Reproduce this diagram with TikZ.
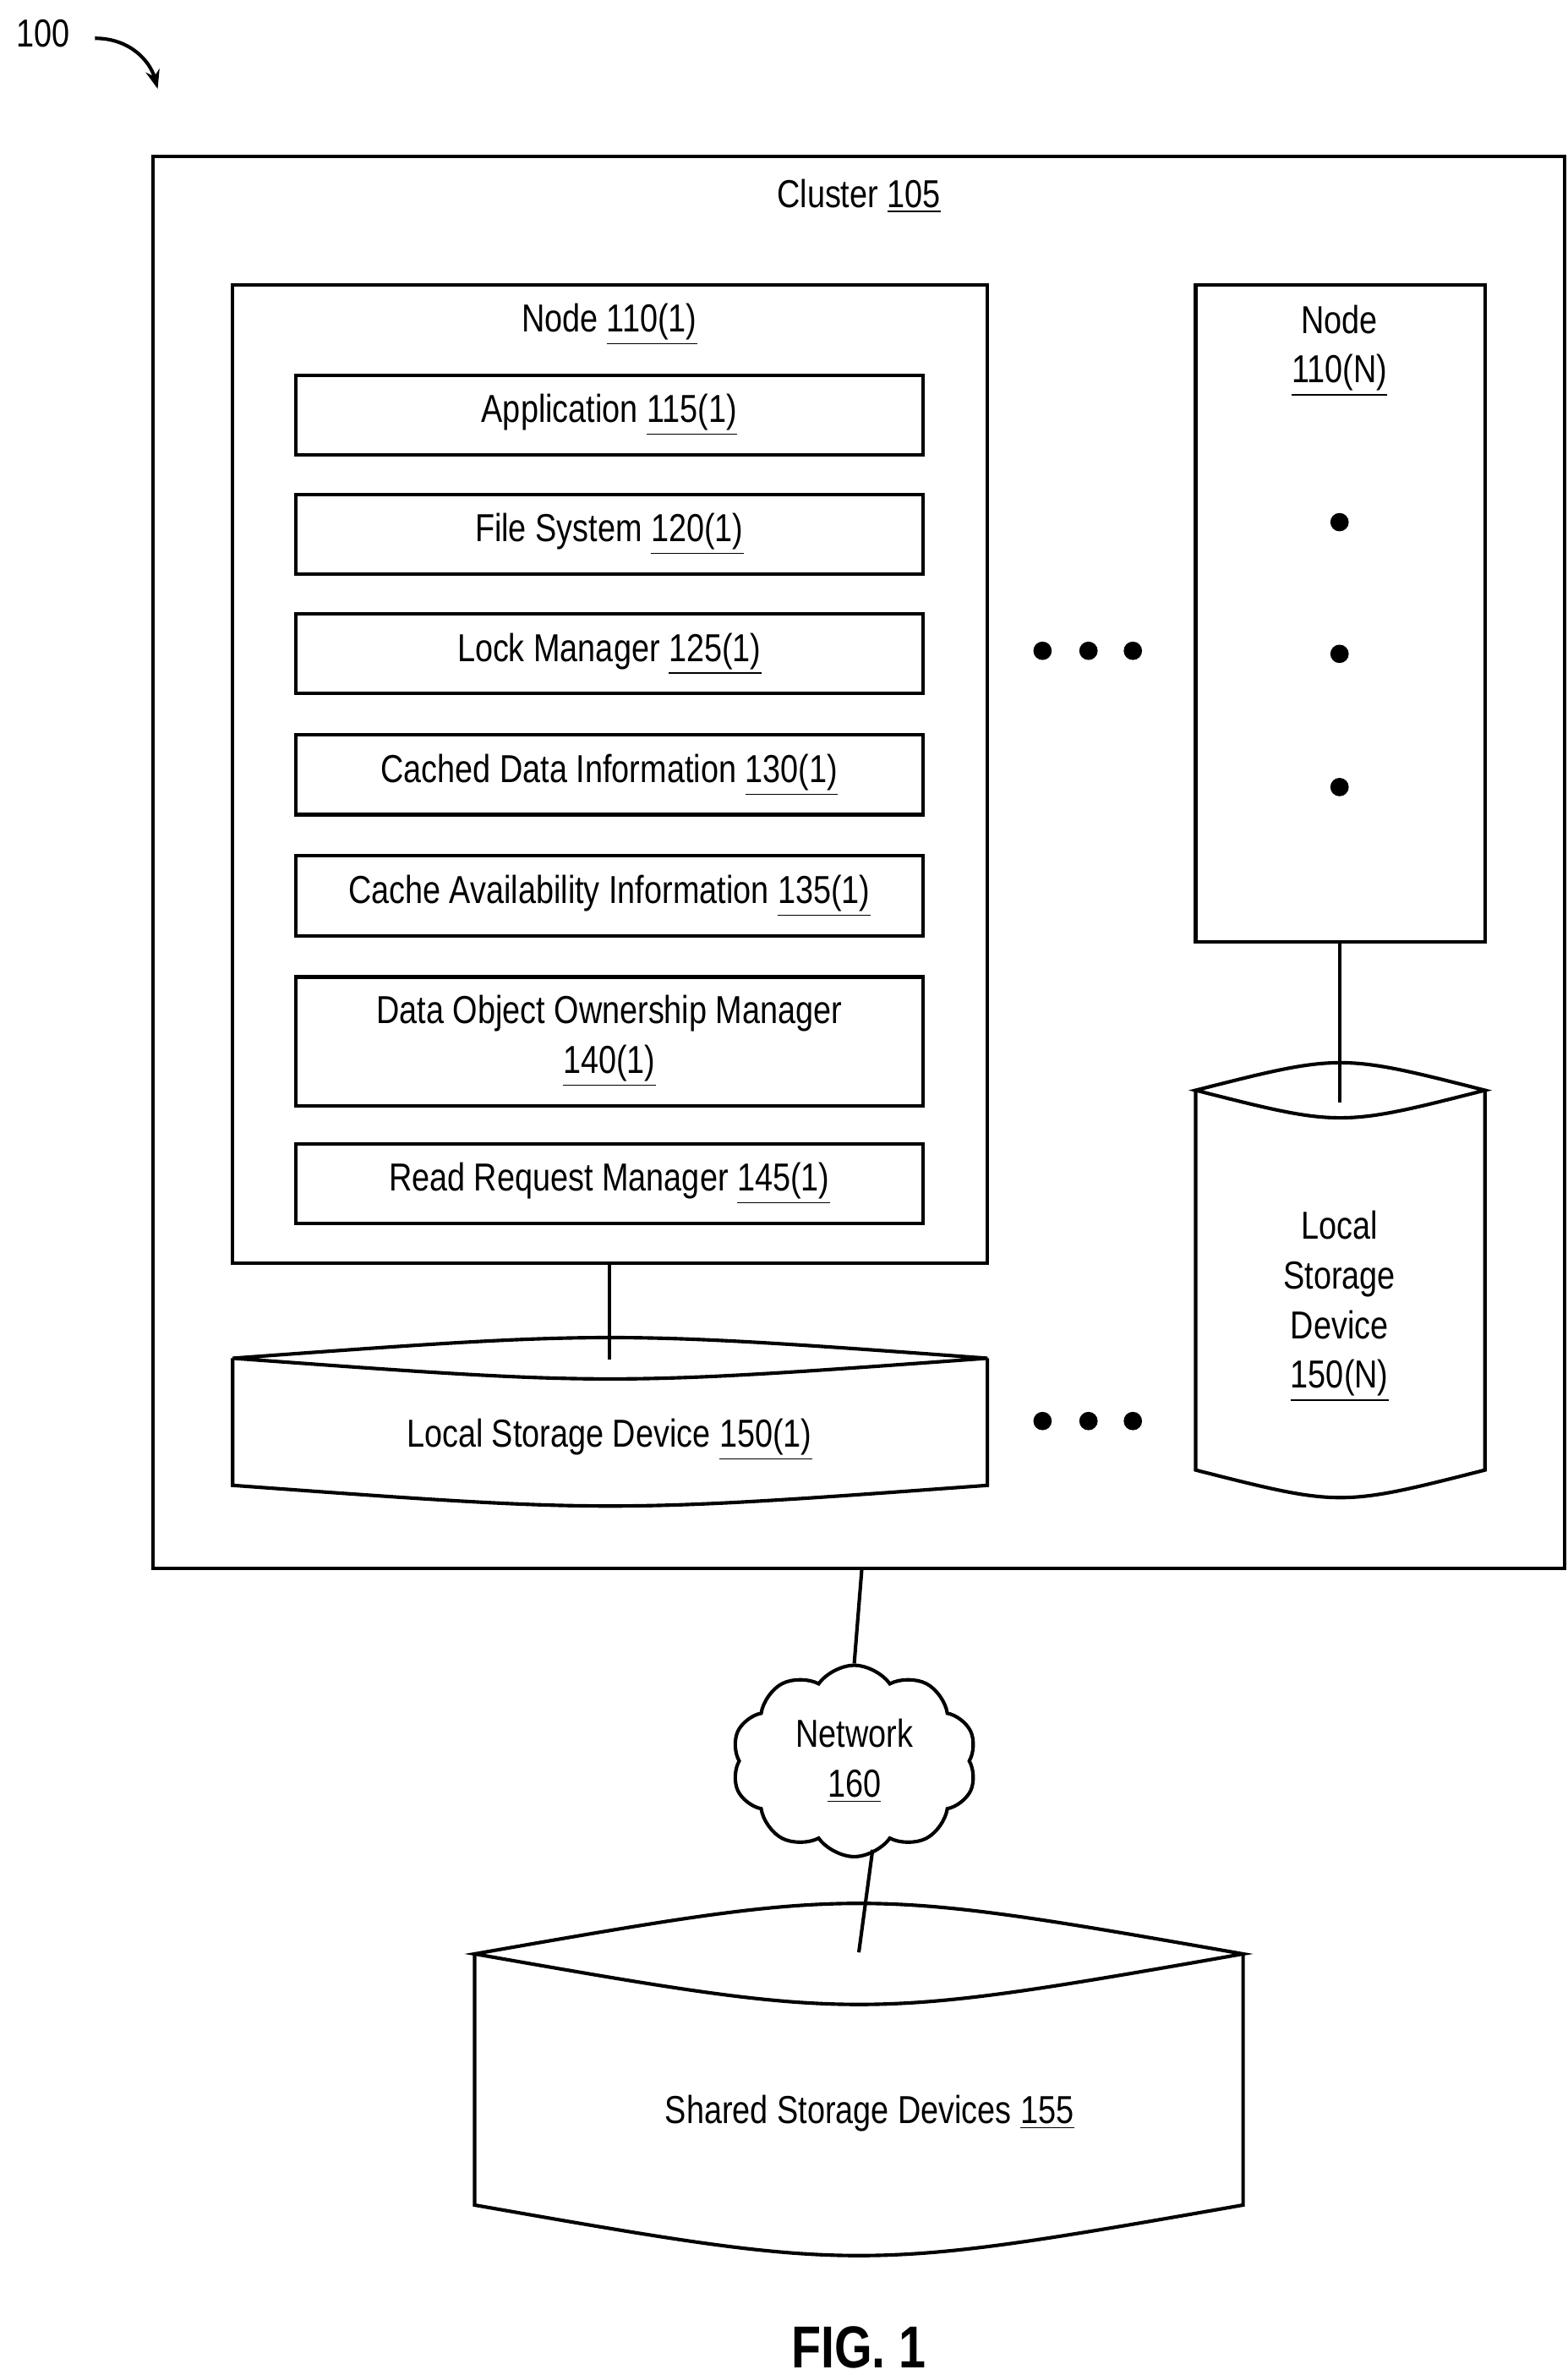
\documentclass[tikz,border=0pt]{standalone}
\usepackage{fontspec}
\setmainfont{Liberation Sans}[FakeStretch=0.82]
\usetikzlibrary{shapes.symbols,arrows.meta}
\newcommand{\refnum}[1]{\underline{#1}}
% lens-topped cylinder: x1, x2, corner y, sag, bottom y
\newcommand{\drum}[5]{%
  \draw (#1,#3) .. controls ({(#1+#2)/2},{#3-2*#4}) .. (#2,#3)
        .. controls ({(#1+#2)/2},{#3+2*#4}) .. (#1,#3) -- cycle;
  \draw (#1,#3) -- (#1,#5) .. controls ({(#1+#2)/2},{#5+2*#4}) .. (#2,#5) -- (#2,#3);}
\begin{document}
\begin{tikzpicture}[x=0.02cm,y=-0.02cm,line width=1.3pt,font=\fontsize{14.5pt}{18.5pt}\selectfont]
  \tikzset{
    box/.style={draw,minimum width=8.2cm,inner sep=0pt,align=center},
    dot/.style={circle,fill,inner sep=0pt,minimum size=0.24cm},
    net/.style={draw,cloud,cloud puffs=10,cloud puff arc=110,aspect=1.3,
      minimum width=3.2cm,minimum height=2.5cm,align=center}
  }
  \useasboundingbox (0,0) rectangle (1024,1551);

  \node (fignum) at (28,22) {100};
  \draw[-{Stealth[length=7pt]}] (62,25) .. controls (85,25) and (98,40) .. (103,58);

  \draw (100,102) rectangle (1022,1024);
  \node (cluster) at (561,128) {Cluster \refnum{105}};

  % node 110(1)
  \draw (152,186) rectangle (645,825);
  \node (n1) at (398,212) {Node \refnum{110(1)}};
  \node[box,minimum height=1.04cm] (app)  at (398,271) {Application \refnum{115(1)}};
  \node[box,minimum height=1.04cm] (fs)   at (398,349) {File System \refnum{120(1)}};
  \node[box,minimum height=1.04cm] (lock) at (398,427) {Lock Manager \refnum{125(1)}};
  \node[box,minimum height=1.04cm] (cdi)  at (398,506) {Cached Data Information \refnum{130(1)}};
  \node[box,minimum height=1.04cm] (cai)  at (398,585) {Cache Availability Information \refnum{135(1)}};
  \node[box,minimum height=1.68cm] (own)  at (398,680) {Data Object Ownership Manager\\\refnum{140(1)}};
  \node[box,minimum height=1.04cm] (rrm)  at (398,773) {Read Request Manager \refnum{145(1)}};

  \foreach \x in {681,711,740} {
    \node[dot] at (\x,425) {};
    \node[dot] at (\x,928) {};
  }

  % node 110(N)
  \draw (781,186) rectangle (970,615);
  \node[align=center] (nN) at (875,229) {Node\\\refnum{110(N)}};
  \foreach \y in {341,427,514} \node[dot] at (875,\y) {};

  % local storage
  \drum{152}{645}{887}{9}{970}
  \node (lsd1) at (398,940) {Local Storage Device \refnum{150(1)}};
  \drum{781}{970}{712}{12}{960}
  \node[align=center] (lsdN) at (875,853) {Local\\Storage\\Device\\\refnum{150(N)}};
  \draw (398,825) -- (398,888);
  \draw (875,615) -- (875,720);

  % network and shared storage
  \node[net] (cloud) at (558,1150) {Network\\\refnum{160}};
  \draw (563,1024) -- (cloud.north);
  \drum{310}{812}{1276}{22}{1440}
  \draw (570,1208) -- (561,1275);
  \node (shared) at (568,1380) {Shared Storage Devices \refnum{155}};

  \node[font=\bfseries\fontsize{22pt}{26pt}\selectfont] (fig) at (561,1533) {FIG. 1};
\end{tikzpicture}
\end{document}
